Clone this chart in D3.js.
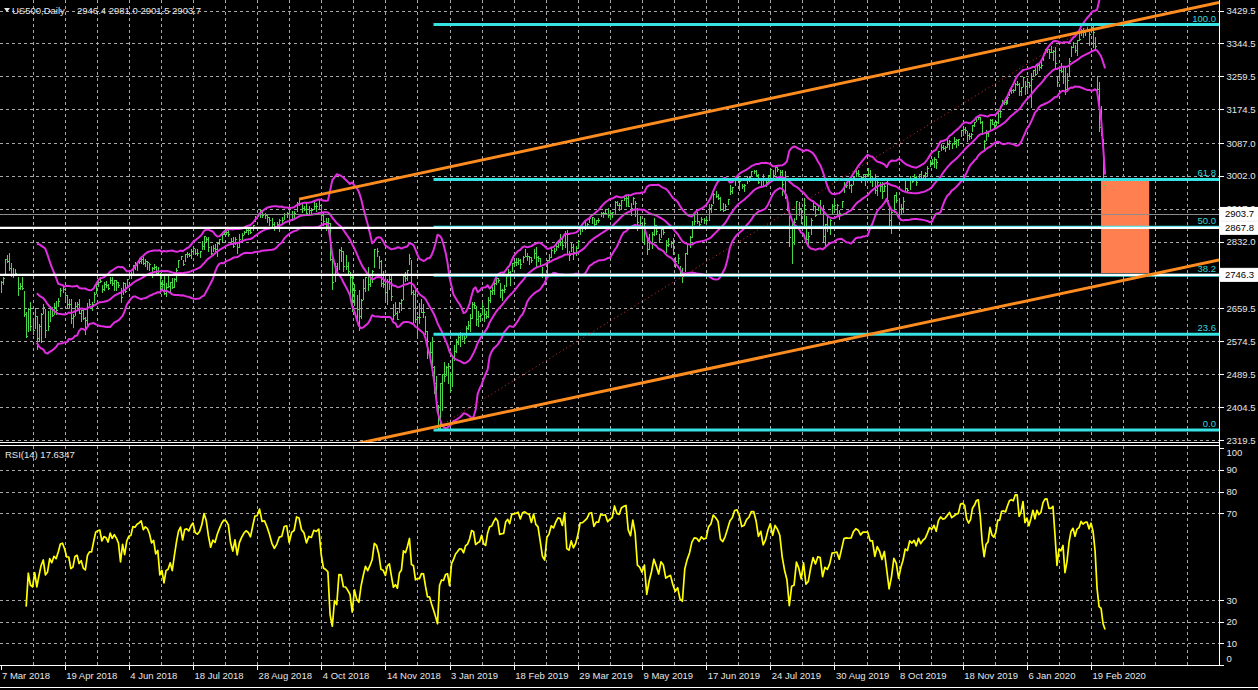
<!DOCTYPE html>
<html><head><meta charset="utf-8">
<script src="https://cdn.jsdelivr.net/npm/d3@7"></script>
<style>
html,body{margin:0;padding:0;background:#000;overflow:hidden;}
svg{display:block;}
</style></head><body>
<svg id="c" width="1258" height="690"></svg>
<script>
// ---------------- DATA ----------------
const symbolName = "US500,Daily";
const lastOHLC = ["2946.4", "2981.0", "2901.5", "2903.7"];
const rsiTitle = "RSI(14) 17.6347";

// daily bars [high, low, close]
const hlc2018 = [
[2728,2647,2720],[2732,2715,2728],[2730,2701,2727],[2741,2722,2739],[2787,2751,2787],[2797,2779,2783],[2802,2758,2765],[2777,2744,2749],[2763,2741,2747],[2762,2745,2752],[2741,2694,2713],[2725,2710,2717],[2740,2709,2712],[2704,2641,2644],[2650,2586,2588],[2661,2601,2659],[2675,2603,2613],[2632,2594,2605],[2660,2610,2641],
[2639,2554,2582],[2620,2575,2614],[2649,2574,2645],[2672,2649,2663],[2657,2586,2604],[2653,2605,2613],[2665,2627,2657],[2662,2639,2642],[2674,2645,2664],[2680,2645,2656],[2686,2665,2678],[2713,2692,2706],[2718,2702,2709],[2702,2682,2693],[2694,2661,2670],[2683,2660,2670],[2683,2622,2635],[2645,2612,2639],[2677,2642,2667],[2677,2660,2670],[2683,2647,2648],
[2656,2626,2655],[2661,2633,2635],[2637,2594,2630],[2673,2616,2663],[2683,2664,2672],[2676,2656,2672],[2701,2675,2697],[2727,2700,2724],[2732,2718,2728],[2742,2728,2730],[2719,2702,2711],[2728,2708,2722],[2730,2714,2720],[2723,2709,2713],[2740,2726,2733],[2742,2721,2725],[2734,2707,2733],[2732,2707,2728],[2728,2714,2721],[2712,2676,2690],[2728,2696,2724],[2724,2701,2705],
[2736,2718,2735],[2752,2738,2747],[2753,2739,2749],[2772,2748,2772],[2779,2761,2771],[2779,2760,2779],[2790,2778,2782],[2789,2778,2787],[2792,2775,2776],[2786,2770,2782],[2782,2762,2780],[2776,2760,2774],[2766,2742,2763],[2774,2762,2767],[2769,2745,2750],[2766,2750,2755],[2750,2699,2717],[2733,2713,2723],[2746,2698,2699],[2725,2691,2716],[2743,2716,2718],
[2727,2699,2727],[2737,2712,2714],[2737,2714,2736],[2764,2730,2760],[2785,2767,2784],[2796,2786,2794],[2785,2771,2775],[2800,2782,2799],[2805,2793,2801],[2804,2794,2798],[2812,2789,2809],[2817,2803,2816],[2812,2799,2804],[2812,2798,2802],[2808,2792,2807],[2833,2814,2820],[2848,2812,2846],[2845,2834,2838],[2843,2808,2819],[2822,2799,2803],[2824,2809,2816],
[2826,2807,2813],[2829,2796,2828],[2840,2827,2840],[2853,2835,2851],[2863,2851,2858],[2862,2853,2857],[2862,2848,2853],[2842,2826,2833],[2843,2819,2822],[2843,2826,2840],[2827,2802,2819],[2851,2819,2840],[2855,2834,2850],[2859,2851,2858],[2873,2858,2863],[2867,2853,2861],[2868,2854,2856],[2876,2862,2875],[2899,2885,2897],[2903,2894,2898],[2916,2895,2914],[2912,2895,2901],[2906,2893,2902],
[2903,2884,2896],[2896,2874,2888],[2893,2869,2878],[2884,2861,2872],[2884,2869,2878],[2890,2859,2888],[2895,2880,2889],[2906,2890,2904],[2910,2897,2905],[2909,2887,2889],[2912,2889,2904],[2912,2897,2907],[2934,2911,2931],[2941,2927,2930],[2930,2910,2919],[2924,2913,2916],[2931,2903,2906],[2925,2903,2915],[2920,2905,2914],
[2937,2917,2924],[2932,2912,2923],[2940,2917,2926],[2928,2888,2902],[2910,2874,2886],[2894,2862,2884],[2894,2874,2881],[2880,2784,2786],[2796,2710,2729],[2776,2730,2768],[2776,2749,2751],[2813,2762,2810],[2817,2781,2809],[2807,2756,2769],[2798,2762,2768],[2779,2746,2756],[2753,2691,2741],[2744,2652,2657],[2722,2668,2706],[2694,2628,2659],[2707,2603,2641],[2685,2634,2682],[2736,2685,2712],
[2741,2705,2740],[2767,2708,2723],[2744,2718,2738],[2758,2728,2756],[2814,2767,2814],[2816,2795,2807],[2796,2763,2781],[2785,2718,2726],[2755,2714,2722],[2747,2685,2702],[2735,2671,2730],[2747,2709,2736],[2746,2682,2691],[2670,2632,2642],[2675,2645,2649],[2654,2631,2633],[2676,2650,2674],[2685,2656,2682],[2745,2683,2744],[2754,2730,2738],[2760,2732,2760],
[2800,2774,2790],[2785,2697,2701],[2708,2621,2696],[2708,2624,2633],[2640,2584,2638],[2674,2623,2637],[2685,2650,2651],[2671,2637,2650],[2640,2593,2600],[2602,2531,2546],[2573,2535,2546],[2586,2488,2507],[2510,2442,2467],[2485,2409,2417],[2410,2350,2351],[2468,2346,2468],[2490,2397,2489],[2520,2472,2486],[2510,2487,2507]
];
const hlc2019 = [
[2519,2467,2510],[2493,2444,2448],[2538,2459,2532],[2566,2525,2550],[2580,2547,2574],[2595,2568,2585],[2598,2562,2597],[2597,2581,2596],[2589,2571,2583],[2613,2585,2610],[2626,2607,2616],[2646,2600,2636],[2675,2634,2671],[2675,2660,2668],[2667,2617,2633],[2653,2613,2639],[2647,2627,2643],[2673,2645,2665],[2661,2627,2644],[2652,2634,2640],[2690,2638,2681],[2708,2675,2704],
[2716,2696,2707],[2724,2698,2724],[2738,2723,2737],[2739,2727,2732],[2726,2688,2706],[2710,2682,2708],[2719,2702,2709],[2749,2718,2744],[2761,2746,2753],[2755,2720,2746],[2776,2755,2776],[2782,2770,2779],[2789,2772,2780],[2789,2774,2784],[2787,2765,2775],[2794,2779,2793],[2813,2794,2796],[2803,2784,2794],[2795,2775,2793],[2792,2779,2784],
[2813,2791,2804],[2817,2768,2792],[2795,2782,2789],[2791,2768,2771],[2767,2740,2749],[2744,2722,2743],[2785,2743,2784],[2799,2784,2792],[2815,2792,2811],[2816,2804,2808],[2830,2810,2822],[2836,2819,2833],[2852,2824,2832],[2843,2812,2824],[2860,2818,2855],[2861,2800,2801],[2809,2785,2798],[2830,2808,2818],[2826,2787,2806],[2820,2798,2815],[2836,2819,2834],
[2869,2852,2867],[2871,2859,2867],[2885,2865,2873],[2881,2867,2879],[2893,2882,2893],[2896,2881,2895],[2892,2873,2878],[2889,2877,2888],[2893,2882,2888],[2910,2898,2907],[2910,2896,2906],[2917,2903,2907],[2918,2895,2900],[2908,2891,2905],[2909,2896,2908],[2937,2905,2934],[2936,2926,2927],[2933,2913,2926],[2940,2917,2940],[2949,2939,2944],[2949,2924,2946],
[2955,2923,2924],[2931,2901,2918],[2947,2930,2946],[2938,2898,2932],[2919,2862,2884],[2898,2874,2880],[2875,2836,2871],[2892,2825,2881],[2840,2801,2812],[2852,2812,2834],[2858,2815,2851],[2892,2850,2876],[2875,2852,2860],[2853,2831,2840],[2868,2845,2865],[2869,2851,2857],[2836,2805,2823],[2841,2821,2826],[2834,2818,2828],[2841,2801,2803],[2792,2766,2783],[2799,2776,2789],[2768,2750,2752],
[2763,2728,2744],[2804,2755,2804],[2827,2800,2826],[2846,2818,2843],[2885,2843,2873],[2905,2878,2886],[2910,2880,2885],[2886,2869,2879],[2896,2883,2891],[2894,2880,2887],[2897,2883,2889],[2930,2887,2918],[2930,2909,2926],[2958,2932,2954],[2964,2947,2950],[2955,2943,2945],[2947,2915,2917],[2932,2911,2913],[2929,2914,2924],[2943,2929,2942],
[2978,2955,2964],[2974,2959,2973],[2996,2978,2996],[3001,2993,2998],[2995,2966,2990],[2981,2970,2976],[2981,2964,2979],[3003,2984,2993],[3002,2989,2999],[3014,3001,3014],[3018,3010,3014],[3016,3003,3004],[3006,2984,2985],[2996,2976,2995],[3006,2975,2977],[2990,2976,2986],[3005,2988,3005],[3019,2996,3019],[3016,2997,3004],[3028,3007,3026],[3025,3014,3021],[3017,3001,3013],[3018,2953,2980],
[3014,2945,2954],[2945,2914,2932],[2898,2822,2844],[2884,2776,2882],[2892,2825,2884],[2938,2891,2938],[2935,2900,2919],[2918,2880,2883],[2944,2876,2926],[2899,2839,2840],[2856,2825,2848],[2893,2853,2889],[2931,2913,2924],[2923,2899,2900],[2928,2914,2925],[2939,2905,2922],[2927,2834,2847],[2879,2822,2878],[2899,2860,2869],[2890,2853,2887],[2930,2905,2924],[2941,2914,2926],
[2930,2900,2928],[2914,2891,2906],[2938,2921,2938],[2985,2960,2976],[2985,2973,2979],[2989,2970,2978],[2980,2960,2979],[3001,2982,3000],[3021,3003,3010],[3017,3002,3007],[3002,2985,2998],[3006,2993,3006],[3007,2979,3006],[3022,3003,3006],[3016,2985,2992],[2999,2977,2992],[3007,2957,2966],[2989,2953,2985],[2987,2963,2977],[2987,2946,2962],[2983,2963,2977],
[2993,2938,2940],[2925,2874,2887],[2911,2855,2910],[2953,2910,2952],[2960,2935,2939],[2940,2892,2893],[2929,2903,2919],[2948,2908,2938],[2993,2963,2970],[2972,2962,2966],[3003,2969,2995],[2997,2986,2990],[3008,2991,2998],[3001,2979,2986],[3008,2993,3007],[3015,2995,2996],[3005,2992,3005],[3013,2999,3010],[3028,3001,3023],[3044,3027,3039],[3047,3034,3036],[3050,3026,3047],[3047,3023,3038],
[3067,3050,3067],[3084,3068,3078],[3083,3072,3075],[3079,3066,3077],[3098,3077,3085],[3094,3071,3093],[3088,3074,3087],[3102,3085,3091],[3098,3078,3095],[3098,3083,3097],[3120,3104,3120],[3124,3109,3122],[3128,3113,3120],[3119,3091,3108],[3112,3097,3104],[3112,3099,3110],[3134,3117,3134],[3142,3132,3141],[3155,3143,3153],[3157,3148,3155],[3154,3140,3141],
[3144,3110,3113],[3094,3070,3093],[3120,3095,3113],[3119,3104,3117],[3150,3124,3146],[3148,3135,3136],[3142,3126,3133],[3144,3133,3142],[3176,3138,3169],[3182,3155,3169],[3198,3184,3191],[3198,3188,3192],[3199,3189,3191],[3206,3192,3206],[3226,3210,3221],[3227,3217,3224],[3226,3220,3223],[3241,3225,3240],[3248,3236,3240],[3243,3211,3221],[3232,3212,3231]
];
const hlc2020 = [
[3258,3235,3258],[3247,3214,3235],[3247,3215,3246],[3245,3233,3237],[3268,3181,3253],[3276,3263,3275],[3282,3262,3265],[3288,3268,3288],[3294,3277,3283],[3298,3280,3289],[3317,3302,3317],[3330,3320,3330],[3335,3322,3331],[3330,3306,3321],[3337,3321,3321],[3327,3302,3326],[3334,3281,3295],[3258,3234,3244],[3285,3250,3276],[3293,3271,3273],[3285,3242,3284],[3283,3214,3226],
[3268,3223,3249],[3306,3264,3298],[3337,3313,3334],[3347,3334,3345],[3341,3322,3328],[3353,3314,3352],[3375,3352,3357],[3381,3366,3379],[3385,3360,3374],[3380,3367,3380],[3387,3376,3381],[3375,3341,3370],[3393,3378,3386],[3392,3335,3373],[3361,3328,3338],[3259,3214,3226],[3246,3119,3128],[3182,3108,3116],[3097,2977,2979],[2981,2901.5,2903.7]
];

// time axis labels and the bar index each one marks
const dateLabels = ["7 Mar 2018","19 Apr 2018","4 Jun 2018","18 Jul 2018","28 Aug 2018","4 Oct 2018","14 Nov 2018","3 Jan 2019","18 Feb 2019","29 Mar 2019","9 May 2019","17 Jun 2019","24 Jul 2019","30 Aug 2019","8 Oct 2019","18 Nov 2019","6 Jan 2020","19 Feb 2020"];
const dateLabelBar = [2,32,63,94,123,149,178,210,242,271,299,326,353,380,407,436,469,501];

const priceTicks = [3429.5,3344.5,3259.5,3174.5,3087.0,3002.0,2917.0,2832.0,2747.0,2659.5,2574.5,2489.5,2404.5,2319.5];
const rsiTicks = [100,90,80,70,30,20,10,0];
const rsiGridLevels = [90,80,70,30,20,10];

// chart objects: [bar index, price]
const fibAnchors = [[202,2345.4],[501,3393.0]];
const fibLevels = [0,23.6,38.2,50,61.8,100];
const channelUpper = [[140,2942],[497,3375]];
const channelLower = [[165,2310],[497,2710]];
const hLinePrices = [2867.8, 2746.3];
const bidPrice = 2903.7;
const zone = {from:506, to:530, top:2992, bottom:2751};

// ---------------- DRAW ----------------
const bars = [...hlc2018, ...hlc2019, ...hlc2020];
const N = bars.length;
const closes = bars.map(b => b[2]);

const W = 1258, H = 690, R = 1219;
const mainBottom = 442, rsiTop = 445.5, rsiBottom = 665;
const slot = 64.15;
const x = d3.scaleLinear().domain(dateLabelBar).range(dateLabelBar.map((d,i) => 0.5 + i*slot));
const y = d3.scaleLinear().domain([2319.5, 3429.5]).range([440, 10.5]);
const yr = d3.scaleLinear().domain([0,100]).range([665.1, 448.1]);

const FONT = "Liberation Sans, Arial, sans-serif";
const GRID = "#a8a8a8";
const svg = d3.select("#c");
svg.append("rect").attr("width",W).attr("height",H).attr("fill","#000");

const defs = svg.append("defs");
defs.append("clipPath").attr("id","cm").append("rect").attr("x",0).attr("y",0).attr("width",R).attr("height",mainBottom);
defs.append("clipPath").attr("id","cr").append("rect").attr("x",0).attr("y",rsiTop).attr("width",R).attr("height",rsiBottom-rsiTop);

// grid
const grid = svg.append("g").attr("stroke",GRID).attr("stroke-width",1).attr("stroke-dasharray","3,3").attr("shape-rendering","crispEdges");
for (let k=1; 0.5 + k*slot/2 < R-2; k++) {
  const gx = Math.round(0.5 + k*slot/2) + 0.5;
  grid.append("line").attr("x1",gx).attr("x2",gx).attr("y1",0).attr("y2",mainBottom);
  grid.append("line").attr("x1",gx).attr("x2",gx).attr("y1",rsiTop).attr("y2",rsiBottom);
}
priceTicks.forEach(p => { const gy = Math.round(y(p))+0.5;
  grid.append("line").attr("x1",0).attr("x2",R).attr("y1",gy).attr("y2",gy); });
rsiGridLevels.forEach(v => { const gy = Math.round(yr(v))+0.5;
  grid.append("line").attr("x1",0).attr("x2",R).attr("y1",gy).attr("y2",gy); });

const main = svg.append("g").attr("clip-path","url(#cm)");

// zone rectangle (background object)
main.append("rect").attr("x",x(zone.from)).attr("width",x(zone.to)-x(zone.from))
  .attr("y",y(zone.top)).attr("height",y(zone.bottom)-y(zone.top)).attr("fill","#ff7f50");

// bars (high-low line with close tick)
const barG = main.append("g").attr("stroke","#48d848").attr("stroke-width",1).attr("shape-rendering","crispEdges");
barG.selectAll("line.hl").data(bars).join("line").attr("class","hl")
  .attr("x1",(d,i)=>Math.round(x(i))+0.5).attr("x2",(d,i)=>Math.round(x(i))+0.5)
  .attr("y1",d=>y(d[0])).attr("y2",d=>y(d[1])+1);
barG.selectAll("line.cl").data(bars).join("line").attr("class","cl")
  .attr("x1",(d,i)=>Math.round(x(i))+1).attr("x2",(d,i)=>Math.round(x(i))+2)
  .attr("y1",d=>Math.round(y(d[2]))+0.5).attr("y2",d=>Math.round(y(d[2]))+0.5);

// Bollinger bands (20,2)
const bb = [];
for (let i=19;i<N;i++){
  const w = closes.slice(i-19,i+1); const m = d3.mean(w);
  const sd = Math.sqrt(d3.mean(w, v => (v-m)*(v-m)));
  bb.push({i, m, up:m+2*sd, lo:m-2*sd});
}
["up","m","lo"].forEach(k => {
  main.append("path").datum(bb).attr("fill","none").attr("stroke","#e02ee0").attr("stroke-width",2)
    .attr("stroke-linejoin","round")
    .attr("d", d3.line().x(d=>x(d.i)).y(d=>y(d[k])));
});

// fib levels
const fibLo = fibAnchors[0][1], fibHi = fibAnchors[1][1];
const fibX0 = x(Math.min(fibAnchors[0][0], fibAnchors[1][0]));
fibLevels.forEach(l => {
  const p = fibLo + (fibHi-fibLo)*l/100;
  main.append("line").attr("x1",fibX0).attr("x2",R).attr("y1",y(p)).attr("y2",y(p))
    .attr("stroke","#36e2e2").attr("stroke-width",3);
});
// fib trend (dotted)
main.append("line").attr("x1",x(fibAnchors[0][0])).attr("y1",y(fibAnchors[0][1]))
  .attr("x2",x(fibAnchors[1][0])).attr("y2",y(fibAnchors[1][1]))
  .attr("stroke","#d83030").attr("stroke-width",1).attr("stroke-dasharray","1,3");

// horizontal lines
hLinePrices.forEach(p => {
  main.append("line").attr("x1",0).attr("x2",R).attr("y1",y(p)).attr("y2",y(p))
    .attr("stroke","#ffffff").attr("stroke-width",2.2);
});
main.append("line").attr("x1",0).attr("x2",R).attr("y1",Math.round(y(bidPrice))+0.5).attr("y2",Math.round(y(bidPrice))+0.5)
  .attr("stroke","#8c8c8c").attr("stroke-width",1);

// channel lines (rays to the right)
function ray(a){
  const x1=x(a[0][0]), y1=y(a[0][1]), x2=x(a[1][0]), y2=y(a[1][1]);
  const s=(y2-y1)/(x2-x1);
  main.append("line").attr("x1",x1).attr("y1",y1).attr("x2",R).attr("y2",y1+s*(R-x1))
    .attr("stroke","#ff8c1e").attr("stroke-width",3);
}
ray(channelUpper); ray(channelLower);

// fib labels
fibLevels.forEach(l => {
  const p = fibLo + (fibHi-fibLo)*l/100;
  svg.append("text").attr("x",R-3).attr("y",y(p)-3).attr("text-anchor","end")
    .attr("font-family",FONT).attr("font-size",9.5).attr("fill","#36d6d6").text(l.toFixed(1));
});

// RSI(14)
const rsi = [];
let ag=0, al=0;
for (let i=1;i<=14;i++){ const d=closes[i]-closes[i-1]; if(d>0) ag+=d; else al-=d; }
ag/=14; al/=14; rsi.push({i:14, v:100-100/(1+ag/al)});
for (let i=15;i<N;i++){ const d=closes[i]-closes[i-1];
  ag=(ag*13+Math.max(d,0))/14; al=(al*13+Math.max(-d,0))/14;
  rsi.push({i, v: al===0?100:100-100/(1+ag/al)}); }
svg.append("g").attr("clip-path","url(#cr)").append("path").datum(rsi)
  .attr("fill","none").attr("stroke","#ffff00").attr("stroke-width",1.7).attr("stroke-linejoin","round")
  .attr("d", d3.line().x(d=>x(d.i)).y(d=>yr(d.v)));

// frames
const frame = svg.append("g").attr("stroke","#ffffff").attr("stroke-width",1).attr("fill","none").attr("shape-rendering","crispEdges");
frame.append("line").attr("x1",0).attr("x2",R+0.5).attr("y1",mainBottom+0.5).attr("y2",mainBottom+0.5);
frame.append("line").attr("x1",0).attr("x2",R+0.5).attr("y1",rsiTop).attr("y2",rsiTop);
frame.append("line").attr("x1",0).attr("x2",R+0.5).attr("y1",rsiBottom+0.5).attr("y2",rsiBottom+0.5);
frame.append("line").attr("x1",R+0.5).attr("x2",R+0.5).attr("y1",0).attr("y2",rsiBottom+0.5);
frame.append("line").attr("x1",0).attr("x2",W).attr("y1",687.5).attr("y2",687.5);

function styleAxis(g){
  g.select(".domain").remove();
  g.selectAll(".tick line").attr("stroke","#ffffff").attr("shape-rendering","crispEdges");
  g.selectAll("text").attr("fill","#e6e6e6").attr("font-family",FONT).attr("font-size",9.5);
}
// price axis
const pa = svg.append("g").attr("transform",`translate(${R+0.5},0)`)
  .call(d3.axisRight(y).tickValues(priceTicks).tickFormat(d3.format(".1f")).tickSize(4).tickPadding(3));
styleAxis(pa);
// rsi axis
const ra = svg.append("g").attr("transform",`translate(${R+0.5},0)`)
  .call(d3.axisRight(yr).tickValues(rsiTicks).tickFormat(d3.format("d")).tickSize(4).tickPadding(3));
styleAxis(ra);
ra.selectAll(".tick").filter(d=>d===100).select("text").attr("y",4);
ra.selectAll(".tick").filter(d=>d===0).select("text").attr("y",-6.5);
// date axis
const da = svg.append("g").attr("transform",`translate(0,${rsiBottom+0.5})`)
  .call(d3.axisBottom(x).tickValues(dateLabelBar).tickFormat((d,i)=>dateLabels[i]).tickSize(4).tickPadding(3));
styleAxis(da);
da.selectAll("text").attr("text-anchor","start").attr("x",1);

// price boxes (drawn over the axis, as in the terminal)
function priceBox(p, bg, fg){
  const py = y(p);
  svg.append("rect").attr("x",R+1.5).attr("y",py-6.5).attr("width",W-R-2).attr("height",13)
    .attr("fill",bg).attr("stroke","#ffffff").attr("stroke-width",1);
  svg.append("text").attr("x",R+6).attr("y",py+3.5).attr("font-family",FONT).attr("font-size",9.5)
    .attr("fill",fg).text(p.toFixed(1));
}
priceBox(bidPrice, "#ffffff", "#000000");
hLinePrices.forEach(p => priceBox(p, "#ffffff", "#000000"));

// header
svg.append("path").attr("d","M4,8 L10,8 L7,12 Z").attr("fill","#e6e6e6");
svg.append("text").attr("x",12).attr("y",13.5).attr("font-family",FONT).attr("font-size",9.5)
  .attr("fill","#e6e6e6").text(symbolName);
svg.append("text").attr("x",77).attr("y",13.5).attr("font-family",FONT).attr("font-size",9.5)
  .attr("fill","#e6e6e6").text(lastOHLC.join(" "));
svg.append("text").attr("x",5).attr("y",rsiTop+12.5).attr("font-family",FONT).attr("font-size",9.5)
  .attr("fill","#e6e6e6").text(rsiTitle);
</script>
</body></html>
